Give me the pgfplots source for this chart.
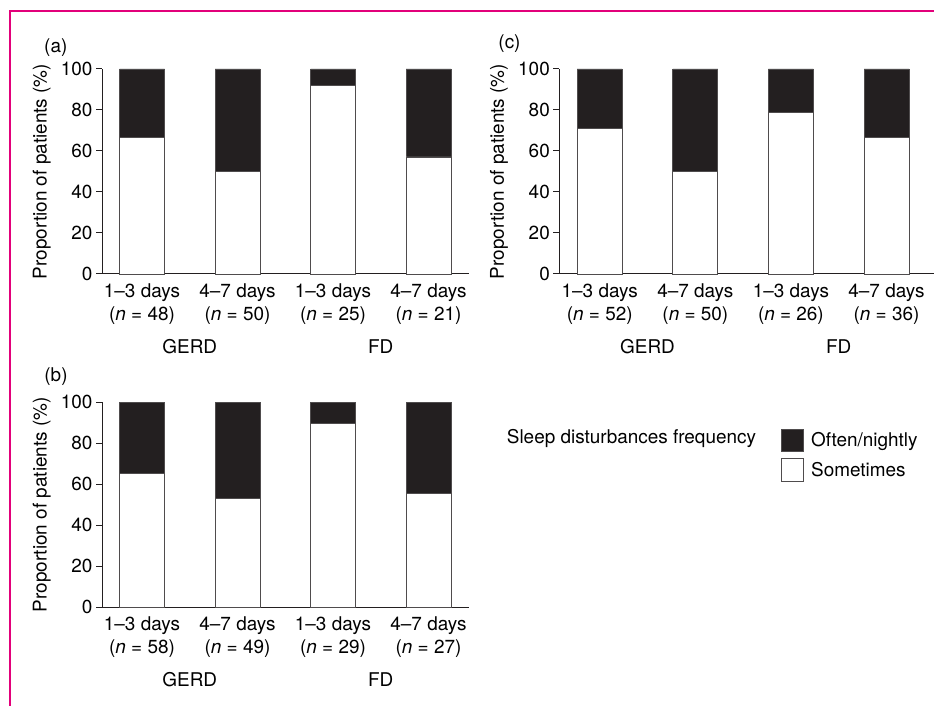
\documentclass[border=0pt]{standalone}
\usepackage{fontspec}
\setmainfont{TeX Gyre Heros}
\usepackage{pgfplots}
\pgfplotsset{compat=1.18}
\definecolor{framepink}{RGB}{226,0,122}
\definecolor{ink}{RGB}{35,31,32}
\newcommand{\fsz}{\fontsize{19}{23}\selectfont}
\pgfplotsset{
  panel/.style={
    scale only axis,
    width=367bp, height=205bp,
    ybar stacked, bar width=45bp,
    ymin=0, ymax=100, ytick={0,20,40,60,80,100},
    xmin=-0.419, xmax=3.424,
    xtick={0,1,2,3},
    axis x line*=bottom, axis y line*=left,
    tick align=outside, major tick length=6bp,
    xtick style={draw=none},
    ytick style={ink, line width=1bp},
    axis line style={ink, line width=1bp},
    /pgf/number format/assume math mode=true,
    tick label style={font=\fsz},
    xticklabel style={align=center},
    label style={font=\fsz},
    every axis y label/.style={at={(axis description cs:-0.164,0.5)}, rotate=90, anchor=center},
    ylabel={Proportion of patients (\%)},
    clip=false,
    every axis plot/.append style={draw=ink!80, line width=0.8bp},
  },
  boxlegend/.style={legend image code/.code={\draw[##1] (0bp,-11.3bp) rectangle (22.6bp,11.3bp);}},
}
\begin{document}
\begin{tikzpicture}[font=\fsz]
\useasboundingbox (0,0) rectangle (934bp,706bp);
\draw[framepink, line width=2bp] (10bp,0bp) -- (10bp,695bp) -- (934bp,695bp);

% (a)
\begin{axis}[panel, at={(102bp,432bp)}, anchor=south west,
  xticklabels={{1–3 days\\(\textit{n} = 48)},{4–7 days\\(\textit{n} = 50)},{1–3 days\\(\textit{n} = 25)},{4–7 days\\(\textit{n} = 21)}}]
\addplot[fill=white] coordinates {(0,66.7) (1,50) (2,92) (3,57.1)};
\addplot[fill=ink] coordinates {(0,33.3) (1,50) (2,8) (3,42.9)};
\node at (axis cs:0.5,-35.5) {GERD};
\node at (axis cs:2.5,-35.5) {FD};
\end{axis}

% (b)
\begin{axis}[panel, at={(102bp,98.7bp)}, anchor=south west,
  xticklabels={{1–3 days\\(\textit{n} = 58)},{4–7 days\\(\textit{n} = 49)},{1–3 days\\(\textit{n} = 29)},{4–7 days\\(\textit{n} = 27)}},
  reverse legend,
  legend style={at={(axis description cs:1.849,0.873)}, anchor=north west, draw=none, fill=none, inner sep=0pt, row sep=6.4bp, font=\fsz, nodes={inner sep=2bp},
    /tikz/every odd column/.append style={column sep=5bp}},
  legend cell align=left]
\addplot[fill=white, boxlegend] coordinates {(0,65.5) (1,53.1) (2,89.7) (3,55.6)};
\addlegendentry{Sometimes}
\addplot[fill=ink, boxlegend] coordinates {(0,34.5) (1,46.9) (2,10.3) (3,44.4)};
\addlegendentry{Often/nightly}
\node at (axis cs:0.5,-35.5) {GERD};
\node at (axis cs:2.5,-35.5) {FD};
\end{axis}

% (c)
\begin{axis}[panel, at={(559.3bp,432bp)}, anchor=south west,
  width=375bp, xmin=-0.423, xmax=3.50,
  every axis y label/.style={at={(axis description cs:-0.161,0.5)}, rotate=90, anchor=center},
  xticklabels={{1–3 days\\(\textit{n} = 52)},{4–7 days\\(\textit{n} = 50)},{1–3 days\\(\textit{n} = 26)},{4–7 days\\(\textit{n} = 36)}}]
\addplot[fill=white] coordinates {(0,71.2) (1,50) (2,79) (3,66.7)};
\addplot[fill=ink] coordinates {(0,28.8) (1,50) (2,21) (3,33.3)};
\node at (axis cs:0.5,-35.5) {GERD};
\node at (axis cs:2.5,-35.5) {FD};
\end{axis}

\node at (55.8bp,658.3bp) {(a)};
\node at (56bp,329.3bp) {(b)};
\node at (509.5bp,662.7bp) {(c)};
\node[anchor=west, inner sep=0pt] at (506.7bp,268bp) {Sleep disturbances frequency};
\end{tikzpicture}
\end{document}
